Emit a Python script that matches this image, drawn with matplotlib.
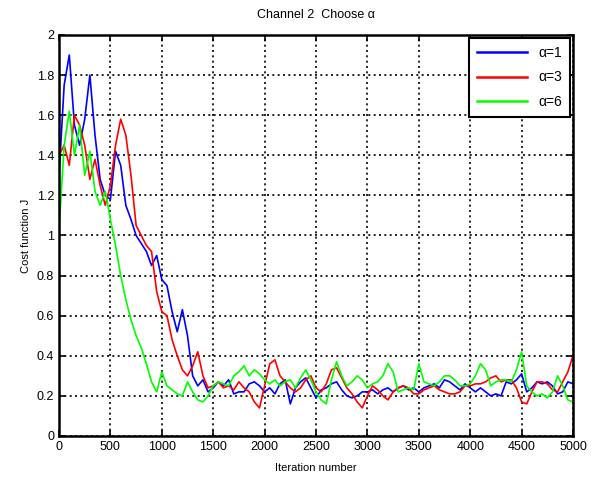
import numpy as np
import matplotlib
matplotlib.use('Agg')
import matplotlib.pyplot as plt

# iteration grid (every 50 iterations)
iterations = np.arange(0, 5001, 50)

# values
j_alpha1 = [1.30, 1.75, 1.90, 1.55, 1.45, 1.58, 1.80, 1.50, 1.28, 1.20,
            1.18, 1.42, 1.35, 1.15, 1.08, 1.00, 0.96, 0.92, 0.85, 0.90,
            0.78, 0.75, 0.62, 0.52, 0.63, 0.50, 0.30, 0.25, 0.28, 0.22,
            0.24, 0.27, 0.25, 0.28, 0.21, 0.22, 0.22, 0.26, 0.27, 0.25,
            0.22, 0.24, 0.21, 0.26, 0.28, 0.16, 0.24, 0.27, 0.29, 0.24,
            0.19, 0.23, 0.24, 0.26, 0.27, 0.23, 0.20, 0.19, 0.20, 0.22,
            0.22, 0.23, 0.21, 0.23, 0.24, 0.22, 0.24, 0.25, 0.23, 0.24,
            0.22, 0.24, 0.25, 0.26, 0.24, 0.28, 0.27, 0.25, 0.23, 0.26,
            0.24, 0.22, 0.24, 0.22, 0.20, 0.21, 0.20, 0.27, 0.26, 0.28,
            0.31, 0.22, 0.24, 0.27, 0.26, 0.27, 0.25, 0.21, 0.22, 0.27,
            0.26]
j_alpha3 = [1.40, 1.45, 1.35, 1.60, 1.55, 1.45, 1.28, 1.38, 1.25, 1.15,
            1.25, 1.45, 1.58, 1.50, 1.30, 1.05, 1.00, 0.95, 0.92, 0.72,
            0.62, 0.60, 0.48, 0.40, 0.33, 0.30, 0.35, 0.42, 0.30, 0.24,
            0.25, 0.27, 0.24, 0.25, 0.23, 0.27, 0.24, 0.22, 0.17, 0.14,
            0.25, 0.36, 0.38, 0.30, 0.27, 0.24, 0.22, 0.24, 0.28, 0.30,
            0.24, 0.22, 0.26, 0.33, 0.34, 0.29, 0.24, 0.21, 0.17, 0.14,
            0.20, 0.25, 0.23, 0.20, 0.18, 0.22, 0.24, 0.25, 0.24, 0.21,
            0.21, 0.23, 0.24, 0.25, 0.23, 0.22, 0.21, 0.21, 0.22, 0.25,
            0.25, 0.26, 0.26, 0.27, 0.29, 0.30, 0.27, 0.28, 0.28, 0.24,
            0.17, 0.16, 0.22, 0.27, 0.27, 0.26, 0.23, 0.22, 0.27, 0.32,
            0.40]
j_alpha6 = [1.03, 1.45, 1.62, 1.40, 1.55, 1.30, 1.42, 1.22, 1.15, 1.22,
            1.08, 0.95, 0.80, 0.68, 0.58, 0.50, 0.44, 0.36, 0.27, 0.22,
            0.32, 0.25, 0.23, 0.21, 0.20, 0.27, 0.22, 0.18, 0.17, 0.20,
            0.25, 0.27, 0.26, 0.25, 0.30, 0.32, 0.35, 0.30, 0.33, 0.31,
            0.28, 0.26, 0.28, 0.25, 0.27, 0.28, 0.24, 0.29, 0.33, 0.28,
            0.22, 0.18, 0.16, 0.28, 0.37, 0.30, 0.25, 0.27, 0.30, 0.28,
            0.24, 0.26, 0.27, 0.30, 0.36, 0.32, 0.22, 0.23, 0.24, 0.23,
            0.36, 0.27, 0.26, 0.25, 0.27, 0.30, 0.30, 0.28, 0.25, 0.25,
            0.26, 0.30, 0.36, 0.33, 0.25, 0.27, 0.28, 0.28, 0.27, 0.33,
            0.42, 0.25, 0.22, 0.20, 0.21, 0.19, 0.22, 0.30, 0.25, 0.18,
            0.17]

labels = ['α=1', 'α=3', 'α=6']
colors = ['#0000FF', '#FF0000', '#00FF00']

plt.rcParams['font.family'] = ['Liberation Sans', 'DejaVu Sans']

fig = plt.figure(figsize=(5.98, 4.79), dpi=100)
ax = fig.add_axes([0.0987, 0.0898, 0.8595, 0.8372])

for vals, lab, col in zip([j_alpha1, j_alpha3, j_alpha6], labels, colors):
    ax.plot(iterations, vals, color=col, linewidth=1.2, label=lab)

ax.set_xlim(0, 5000)
ax.set_ylim(0, 2)
ax.set_xticks(np.arange(0, 5001, 500))
ax.set_yticks(np.arange(0, 2.01, 0.2))
ax.set_yticklabels(['0', '0.2', '0.4', '0.6', '0.8', '1', '1.2', '1.4', '1.6', '1.8', '2'])
ax.grid(True, color='black', linestyle=(0, (1.2, 2.0)), linewidth=1.2)
ax.tick_params(direction='in', length=4, width=1.2, labelsize=9,
               top=True, right=True)
for s in ax.spines.values():
    s.set_linewidth(1.8)

ax.set_title('Channel 2  Choose α', fontsize=9, pad=12)
ax.set_xlabel('Iteration number', fontsize=8, labelpad=7)
ax.set_ylabel('Cost function J', fontsize=8, labelpad=4)

leg = ax.legend(loc='upper right', fontsize=10, fancybox=False,
                edgecolor='black', framealpha=1, borderaxespad=0.2,
                handlelength=3.6, labelspacing=0.75, borderpad=0.6)
leg.get_frame().set_linewidth(1.5)
for line in leg.get_lines():
    line.set_linewidth(1.8)

fig.savefig('out.png', dpi=100)
